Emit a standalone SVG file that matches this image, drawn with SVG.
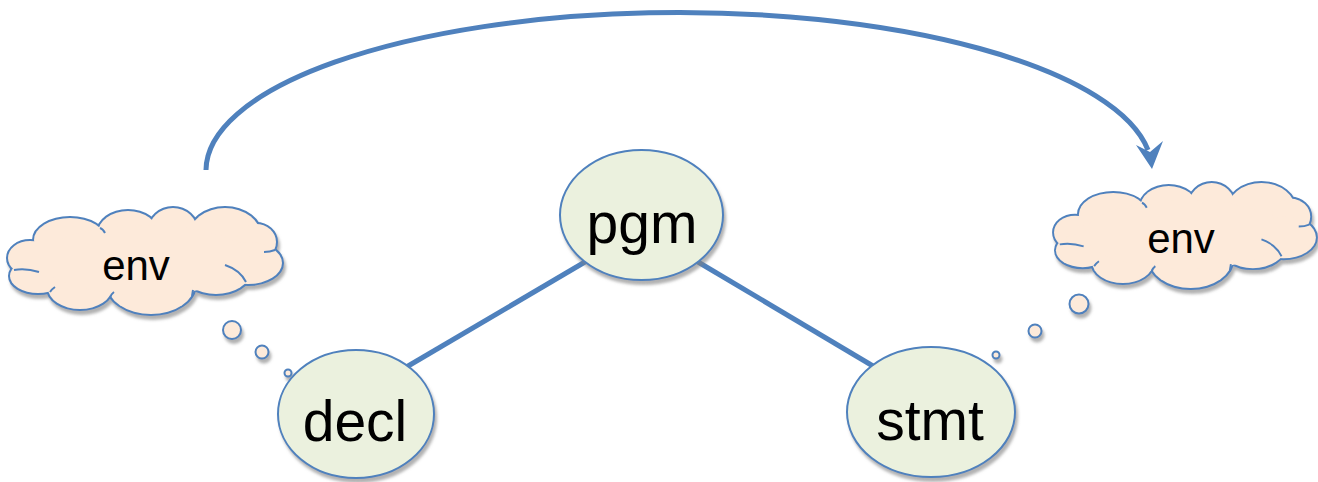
<svg xmlns="http://www.w3.org/2000/svg" xmlns:xlink="http://www.w3.org/1999/xlink" width="1318" height="482" viewBox="0 0 1318 482">
<style>
.node{fill:#EBF1DE;stroke:#4F81BD;stroke-width:2}
.lbl{font-family:"Liberation Sans",Arial,sans-serif;fill:#000;text-anchor:middle}
.big{font-size:57px}
.small{font-size:42px}
.edge{stroke:#4F81BD;stroke-width:5;fill:none}
.cs{fill:#FDEADA;stroke:#4F81BD;stroke-width:4}
.cf{fill:#FDEADA;stroke:none}
.crease{fill:none;stroke:#4F81BD;stroke-width:2}
.bub{fill:#FDEADA;stroke:#4F81BD;stroke-width:2}
</style>
<defs>
<filter id="sh" x="-20%" y="-20%" width="140%" height="150%">
<feDropShadow dx="2" dy="4" stdDeviation="1.5" flood-color="#7f7f7f" flood-opacity="0.6"/>
</filter>
<g id="cloudShape">
<g class="cs">
<ellipse cx="22" cy="50" rx="22" ry="17"/>
<ellipse cx="62" cy="32" rx="36" ry="22"/>
<ellipse cx="120" cy="25" rx="30" ry="22"/>
<ellipse cx="165" cy="22" rx="24" ry="22"/>
<ellipse cx="217" cy="28" rx="36" ry="28"/>
<ellipse cx="248" cy="34" rx="20" ry="18"/>
<ellipse cx="240" cy="55" rx="34" ry="21"/>
<ellipse cx="208" cy="64" rx="34" ry="22"/>
<ellipse cx="143" cy="76" rx="44" ry="30"/>
<ellipse cx="72" cy="80" rx="32" ry="21"/>
<ellipse cx="30" cy="68" rx="28" ry="17"/>
</g>
<g class="cf">
<ellipse cx="22" cy="50" rx="22" ry="17"/>
<ellipse cx="62" cy="32" rx="36" ry="22"/>
<ellipse cx="120" cy="25" rx="30" ry="22"/>
<ellipse cx="165" cy="22" rx="24" ry="22"/>
<ellipse cx="217" cy="28" rx="36" ry="28"/>
<ellipse cx="248" cy="34" rx="20" ry="18"/>
<ellipse cx="240" cy="55" rx="34" ry="21"/>
<ellipse cx="208" cy="64" rx="34" ry="22"/>
<ellipse cx="143" cy="76" rx="44" ry="30"/>
<ellipse cx="72" cy="80" rx="32" ry="21"/>
<ellipse cx="30" cy="68" rx="28" ry="17"/>
<ellipse cx="137" cy="52" rx="105" ry="35"/>
</g>
<g class="crease">
<path d="M6,62 Q18,60 31,64"/>
<path d="M267,42 Q262,44 256,44"/>
<path d="M217,57 Q232,62 238,74"/>
<path d="M184,88 L185,82"/>
<path d="M102,90 Q103,86 106,84"/>
<path d="M42,84 Q44,81 47,79"/>
<path d="M92,20 Q95,21 97,25"/>
</g>
</g>
</defs>

<g id="connectors">
<path class="edge" d="M206,170 A473,158 0 0 1 1148,150"/>
<polygon points="1136,145 1150,152 1163,141 1152,169" fill="#4F81BD"/>
<line class="edge" x1="403" y1="369" x2="590" y2="259"/>
<line class="edge" x1="693" y1="259" x2="878" y2="369"/>
</g>

<g id="env-left">
<use xlink:href="#cloudShape" href="#cloudShape" transform="translate(8,208)" filter="url(#sh)"/>
<text class="lbl small" x="136" y="280">env</text>
</g>
<g id="bubbles-left" filter="url(#sh)">
<circle class="bub" cx="232" cy="330" r="9"/>
<circle class="bub" cx="262" cy="352" r="6.5"/>
<circle class="bub" cx="288" cy="373" r="3.5"/>
</g>

<g id="env-right">
<use xlink:href="#cloudShape" href="#cloudShape" transform="translate(1054,183) scale(0.956,0.99)" filter="url(#sh)"/>
<text class="lbl small" x="1181" y="253">env</text>
</g>
<g id="bubbles-right" filter="url(#sh)">
<circle class="bub" cx="1079" cy="304" r="9.5"/>
<circle class="bub" cx="1035" cy="331" r="6.5"/>
<circle class="bub" cx="996" cy="355" r="3.5"/>
</g>

<g id="pgm">
<ellipse class="node" cx="641.5" cy="215" rx="81.5" ry="65" filter="url(#sh)"/>
<text class="lbl big" x="642" y="243">pgm</text>
</g>
<g id="decl">
<ellipse class="node" cx="356" cy="414" rx="78" ry="64" filter="url(#sh)"/>
<text class="lbl big" x="355" y="441">decl</text>
</g>
<g id="stmt">
<ellipse class="node" cx="931" cy="412" rx="84" ry="65" filter="url(#sh)"/>
<text class="lbl big" x="930" y="440">stmt</text>
</g>
</svg>
